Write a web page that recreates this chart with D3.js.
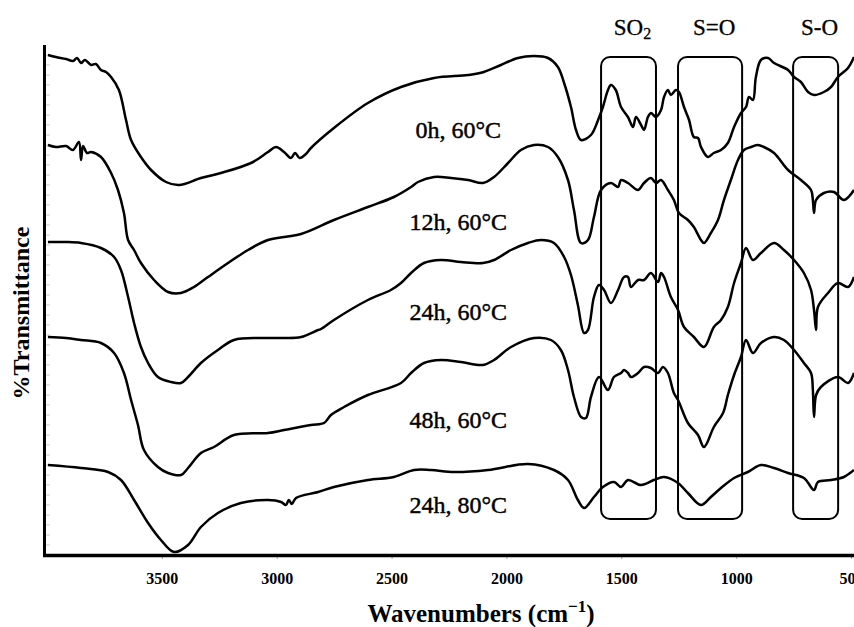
<!DOCTYPE html>
<html>
<head>
<meta charset="utf-8">
<script src="https://cdn.jsdelivr.net/npm/d3@7"></script>
<style>
  html, body { margin: 0; padding: 0; background: #fff; }
  #chart { width: 854px; height: 627px; overflow: hidden; }
</style>
</head>
<body>
<div id="chart"></div>
<script>
// spectra: [wavenumber cm-1, %T (stacked, arbitrary offset)]
const spectrum0h60 = [
  [3996, 100], [3961, 99.6], [3917, 99.2], [3887, 98.8], [3869, 99.4], [3852, 98.4], [3835, 99.0],
  [3808, 98.0], [3787, 98.2], [3765, 97.0], [3743, 96.6], [3721, 95.6], [3687, 93.0], [3656, 87.0],
  [3634, 83.0], [3591, 79.6], [3547, 77.0], [3482, 74.6], [3425, 74.0], [3330, 75.4], [3243, 76.4],
  [3112, 78.4], [3038, 80.6], [3003, 81.6], [2968, 80.6], [2938, 79.4], [2920, 80.4], [2900, 79.4],
  [2873, 80.2], [2851, 81.4], [2751, 85.4], [2603, 90.4], [2459, 93.6], [2315, 95.4], [2167, 96.0],
  [2098, 96.6], [2024, 98.0], [1950, 99.4], [1880, 99.8], [1819, 99.4], [1776, 97.6], [1749, 94.4],
  [1719, 89.6], [1697, 85.0], [1675, 83.0], [1632, 84.0], [1601, 87.0], [1580, 89.6], [1558, 93.0],
  [1545, 94.0], [1524, 93.0], [1501, 89.6], [1471, 87.6], [1449, 85.6], [1436, 87.6], [1414, 86.0],
  [1401, 85.0], [1384, 87.6], [1371, 88.4], [1349, 87.6], [1327, 89.0], [1314, 91.6], [1297, 93.0],
  [1284, 92.0], [1262, 93.0], [1249, 92.6], [1227, 89.6], [1205, 87.0], [1184, 83.6], [1166, 83.4],
  [1153, 81.6], [1123, 79.6], [1097, 80.4], [1066, 81.0], [1036, 82.4], [1009, 85.6], [979, 88.4],
  [957, 89.6], [944, 91.6], [927, 91.0], [914, 95.6], [892, 99.0], [861, 99.4], [835, 98.4],
  [774, 97.0], [748, 95.6], [718, 94.6], [687, 92.6], [661, 92.0], [618, 92.6], [587, 93.6],
  [557, 95.6], [513, 97.4], [487, 99.6]
];

const spectrum12h60 = [
  [3996, 82.0], [3961, 81.6], [3917, 81.8], [3887, 81.0], [3861, 82.6], [3852, 79.0], [3843, 81.8],
  [3826, 80.4], [3808, 80.6], [3765, 79.6], [3721, 76.4], [3691, 73.0], [3665, 68.4], [3647, 63.0],
  [3621, 61.0], [3591, 58.4], [3534, 55.0], [3473, 52.6], [3417, 52.4], [3360, 53.6], [3299, 55.6],
  [3212, 58.4], [3125, 61.0], [3038, 63.0], [2894, 64.2], [2751, 67.0], [2603, 69.6], [2490, 71.6],
  [2415, 73.6], [2385, 74.6], [2315, 75.6], [2241, 75.4], [2167, 75.0], [2102, 74.4], [2054, 75.6],
  [1993, 78.4], [1937, 81.0], [1880, 82.0], [1819, 81.6], [1776, 79.6], [1732, 75.0], [1706, 69.0],
  [1675, 62.4], [1645, 63.0], [1619, 67.6], [1588, 73.0], [1545, 74.4], [1514, 73.6], [1501, 75.0],
  [1471, 74.4], [1427, 73.0], [1401, 74.4], [1371, 75.4], [1349, 74.4], [1327, 75.0], [1297, 73.0],
  [1271, 71.0], [1249, 68.4], [1210, 67.0], [1184, 65.6], [1153, 63.0], [1140, 62.4], [1110, 64.4],
  [1079, 67.0], [1053, 71.0], [1023, 75.0], [992, 79.0], [966, 81.0], [935, 81.6], [905, 82.0],
  [879, 81.6], [835, 80.4], [774, 77.0], [718, 75.0], [674, 73.0], [666, 71.0], [661, 68.4],
  [652, 71.0], [618, 72.4], [574, 72.6], [531, 71.0], [487, 73.0]
];

const spectrum24h60 = [
  [3996, 62.6], [3917, 62.6], [3852, 62.4], [3765, 61.4], [3708, 59.6], [3678, 57.0], [3647, 51.6],
  [3621, 46.4], [3591, 41.6], [3560, 38.4], [3517, 35.6], [3460, 34.6], [3417, 34.4], [3386, 35.6],
  [3330, 38.4], [3256, 41.0], [3186, 43.0], [3068, 43.4], [2968, 43.4], [2894, 43.6], [2820, 45.0],
  [2807, 45.2], [2751, 47.0], [2603, 51.0], [2503, 53.0], [2459, 54.4], [2415, 56.4], [2359, 58.4],
  [2285, 59.0], [2198, 58.6], [2102, 58.4], [2054, 59.0], [1980, 61.0], [1906, 62.4], [1850, 63.0],
  [1793, 62.4], [1749, 59.6], [1719, 56.0], [1689, 50.0], [1662, 44.4], [1645, 45.0], [1619, 51.6],
  [1597, 54.0], [1575, 53.0], [1545, 50.4], [1514, 53.0], [1488, 55.6], [1471, 55.6], [1458, 53.6],
  [1427, 55.0], [1401, 55.0], [1371, 56.4], [1340, 54.6], [1327, 56.4], [1314, 55.6], [1284, 51.6],
  [1253, 49.0], [1227, 45.6], [1184, 43.6], [1140, 41.6], [1097, 45.6], [1066, 47.0], [1036, 49.6],
  [1009, 54.4], [979, 58.4], [957, 61.4], [927, 59.0], [892, 60.4], [835, 62.4], [792, 61.0],
  [748, 59.0], [705, 56.4], [674, 53.0], [661, 49.0], [652, 45.0], [644, 49.6], [600, 52.4],
  [557, 54.4], [513, 53.6], [487, 55.6]
];

const spectrum48h60 = [
  [3996, 43.6], [3917, 43.4], [3852, 43.0], [3765, 42.4], [3708, 40.4], [3665, 36.4], [3634, 31.0],
  [3604, 26.0], [3578, 21.0], [3517, 17.6], [3473, 16.4], [3417, 16.0], [3386, 17.4], [3330, 20.4],
  [3273, 21.6], [3186, 24.0], [3038, 24.4], [2968, 25.0], [2851, 26.0], [2794, 26.4], [2764, 28.0],
  [2707, 29.6], [2603, 32.0], [2459, 34.4], [2415, 36.4], [2359, 38.4], [2285, 39.0], [2198, 38.6],
  [2102, 38.0], [2054, 39.0], [1980, 41.6], [1880, 43.4], [1806, 43.0], [1763, 41.0], [1732, 37.0],
  [1706, 31.6], [1675, 27.6], [1654, 27.4], [1632, 31.6], [1597, 35.6], [1558, 33.0], [1532, 35.6],
  [1501, 36.4], [1488, 37.0], [1471, 36.4], [1458, 35.6], [1427, 36.4], [1401, 37.6], [1371, 37.4],
  [1340, 36.4], [1319, 37.6], [1297, 36.4], [1271, 32.4], [1253, 31.0], [1210, 26.4], [1166, 24.0],
  [1140, 21.6], [1097, 25.6], [1057, 28.4], [1036, 32.0], [1009, 36.0], [979, 39.6], [957, 43.0],
  [927, 40.4], [892, 42.4], [835, 43.6], [792, 43.0], [748, 41.0], [705, 38.4], [674, 36.4],
  [666, 33.0], [661, 27.6], [652, 32.0], [631, 33.6], [557, 35.6], [513, 34.4], [487, 36.4]
];

const spectrum24h80 = [
  [3996, 18.0], [3852, 17.4], [3734, 16.6], [3678, 15.0], [3621, 11.0], [3560, 6.4], [3504, 3.0],
  [3447, 0.6], [3386, 2.0], [3330, 5.6], [3256, 8.4], [3156, 10.4], [3038, 11.0], [2981, 10.6],
  [2960, 10.0], [2947, 11.0], [2934, 10.2], [2916, 11.4], [2820, 12.6], [2751, 13.6], [2603, 15.0],
  [2490, 15.6], [2402, 17.0], [2328, 17.0], [2228, 16.6], [2080, 17.0], [1906, 18.2], [1793, 17.0],
  [1732, 15.0], [1689, 11.0], [1662, 9.4], [1619, 11.6], [1580, 13.6], [1532, 14.6], [1501, 13.6],
  [1471, 15.0], [1414, 14.0], [1358, 15.0], [1314, 15.6], [1253, 14.4], [1210, 12.4], [1153, 10.0],
  [1110, 11.6], [1066, 13.4], [1009, 15.4], [949, 16.6], [892, 18.0], [835, 17.4], [774, 16.4],
  [705, 15.4], [661, 13.0], [644, 14.6], [587, 15.0], [531, 15.6], [487, 17.0]
];

const spectra = [spectrum0h60, spectrum12h60, spectrum24h60, spectrum48h60, spectrum24h80];
const seriesNames = ["0h, 60\u00B0C", "12h, 60\u00B0C", "24h, 60\u00B0C", "48h, 60\u00B0C", "24h, 80\u00B0C"];
// where each name sits (%T units, same scale as spectra)
const labelLevels = [83.4, 65.0, 47.0, 25.4, 8.4];

// highlighted bands: [label, high wavenumber, low wavenumber, subscript]
const bands = [
  ["SO", 1588, 1349, "2"],
  ["S=O", 1253, 974, ""],
  ["S-O", 752, 556, ""]
];

const xTicks = [3500, 3000, 2500, 2000, 1500, 1000, 500];

const width = 854;
const height = 627;

const x = d3.scaleLinear().domain([4000, 500]).range([47, 851]);
const y = d3.scaleLinear().domain([0, 102]).range([555, 45]);

const svg = d3.create("svg")
  .attr("width", width)
  .attr("height", height)
  .attr("viewBox", [0, 0, width, height]);

svg.append("rect").attr("width", width).attr("height", height).attr("fill", "#fff");

// faint minor ticks along the y axis
svg.append("g")
  .selectAll("line")
  .data(d3.range(2, 102, 2))
  .join("line")
  .attr("x1", 46).attr("x2", 50)
  .attr("y1", d => y(d)).attr("y2", d => y(d))
  .attr("stroke", "#d0d0d0")
  .attr("stroke-width", 1);

// bands (rounded boxes)
const bandG = svg.append("g");
bandG.selectAll("rect")
  .data(bands)
  .join("rect")
  .attr("x", d => x(d[1]))
  .attr("y", y(99.6))
  .attr("width", d => x(d[2]) - x(d[1]))
  .attr("height", y(7.2) - y(99.6))
  .attr("rx", 9)
  .attr("fill", "none")
  .attr("stroke", "#000")
  .attr("stroke-width", 2);

const bandText = bandG.selectAll("text")
  .data(bands)
  .join("text")
  .attr("x", d => (x(d[1]) + x(d[2])) / 2 + 4)
  .attr("y", 35)
  .attr("text-anchor", "middle")
  .attr("font-family", "'Liberation Serif', serif")
  .attr("font-size", 23)
  .attr("fill", "#000")
  .attr("stroke", "#000")
  .attr("stroke-width", 0.3);
bandText.append("tspan").text(d => d[0]);
bandText.append("tspan")
  .attr("font-size", 16)
  .attr("dy", 4)
  .text(d => d[3]);

// spectra
const line = d3.line()
  .x(d => x(d[0]))
  .y(d => y(d[1]))
  .curve(d3.curveCatmullRom.alpha(0.5));

svg.append("g")
  .selectAll("path")
  .data(spectra)
  .join("path")
  .attr("d", line)
  .attr("fill", "none")
  .attr("stroke", "#000")
  .attr("stroke-width", 2.5)
  .attr("stroke-linejoin", "round");

// series names
svg.append("g")
  .selectAll("text")
  .data(seriesNames)
  .join("text")
  .attr("x", x(2210))
  .attr("y", (d, i) => y(labelLevels[i]))
  .attr("text-anchor", "middle")
  .attr("font-family", "'Liberation Serif', serif")
  .attr("font-size", 24)
  .attr("fill", "#000")
  .attr("stroke", "#000")
  .attr("stroke-width", 0.45)
  .text(d => d);

// axes
const xAxis = d3.axisBottom(x)
  .tickValues(xTicks)
  .tickSize(3)
  .tickPadding(14)
  .tickFormat(d3.format("d"));

const gx = svg.append("g")
  .attr("transform", `translate(0,${y(0) + 1})`)
  .call(xAxis);
gx.select(".domain").remove();
gx.selectAll(".tick line").attr("stroke", "#aaa");
gx.selectAll("text")
  .attr("font-family", "'Liberation Serif', serif")
  .attr("font-weight", "bold")
  .attr("font-size", 16)
  .attr("fill", "#000");

svg.append("line")
  .attr("x1", 43).attr("x2", width)
  .attr("y1", y(0) + 0.5).attr("y2", y(0) + 0.5)
  .attr("stroke", "#000")
  .attr("stroke-width", 3.5);

svg.append("line")
  .attr("x1", 44.5).attr("x2", 44.5)
  .attr("y1", y(102)).attr("y2", y(0) + 2)
  .attr("stroke", "#000")
  .attr("stroke-width", 3);

// axis titles
const xTitle = svg.append("text")
  .attr("x", 481)
  .attr("y", 622)
  .attr("text-anchor", "middle")
  .attr("font-family", "'Liberation Serif', serif")
  .attr("font-weight", "bold")
  .attr("font-size", 25)
  .attr("fill", "#000");
xTitle.append("tspan").text("Wavenumbers (cm");
xTitle.append("tspan").attr("font-size", 17).attr("dy", -10).text("\u22121");
xTitle.append("tspan").attr("dy", 10).text(")");

svg.append("text")
  .attr("transform", "translate(29,313) rotate(-90)")
  .attr("text-anchor", "middle")
  .attr("font-family", "'Liberation Serif', serif")
  .attr("font-weight", "bold")
  .attr("font-size", 24)
  .attr("fill", "#000")
  .text("%Transmittance");

document.getElementById("chart").append(svg.node());
</script>
</body>
</html>
